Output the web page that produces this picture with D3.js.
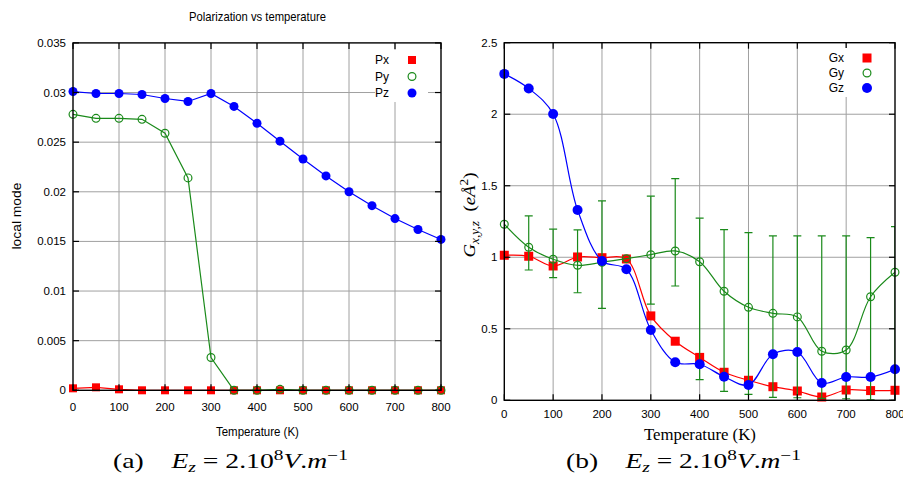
<!DOCTYPE html>
<html><head><meta charset="utf-8">
<script src="https://cdn.jsdelivr.net/npm/d3@7"></script>
<style>body{margin:0;background:#fff} svg{display:block}</style>
</head><body>
<svg id="c" width="903" height="484"></svg>
<script>
// ---------- data ----------
const temps = [0,50,100,150,200,250,300,350,400,450,500,550,600,650,700,750,800];
const px = [0.0002,0.0003,0.0001,0,0,0,0,0,0,0,0,0,0,0,0,0,0];
const py = [0.0278,0.0274,0.0274,0.0273,0.0259,0.0214,0.0033,0,0,0.0001,0,0,0,0,0,0,0];
const pz = [0.0301,0.0299,0.0299,0.0298,0.0294,0.0291,0.0299,0.0286,0.0269,0.0251,0.0233,0.0216,0.0200,0.0186,0.0173,0.0162,0.0152];

const gx = [1.014,1.007,0.939,1.002,0.997,0.988,0.590,0.413,0.300,0.196,0.140,0.095,0.065,0.023,0.072,0.068,0.070];
const gy = [1.231,1.070,0.986,0.944,0.965,0.990,1.018,1.044,0.969,0.762,0.650,0.608,0.583,0.343,0.352,0.724,0.895];
const gz = [2.282,2.180,2.002,1.331,0.974,0.916,0.492,0.266,0.252,0.165,0.107,0.322,0.338,0.121,0.163,0.163,0.217];
const gyHi = [null,1.289,1.196,1.191,1.394,null,1.427,1.550,1.273,1.193,1.172,1.149,1.149,1.149,1.149,1.137,1.214];
const gyLo = [null,0.911,0.857,0.752,0.643,null,0.673,0.799,0.144,0.063,0.042,0.021,0.018,0.014,0.011,0.004,0.0];

const xTicks = [0,100,200,300,400,500,600,700,800];
const leftYTicks = [0,0.005,0.01,0.015,0.02,0.025,0.03,0.035];
const leftYLabels = ["0","0.005","0.01","0.015","0.02","0.025","0.03","0.035"];
const rightYTicks = [0,0.5,1,1.5,2,2.5];
const rightYLabels = ["0","0.5","1","1.5","2","2.5"];
const leftSeries = ["Px","Py","Pz"];
const rightSeries = ["Gx","Gy","Gz"];

// ---------- setup ----------
const svg = d3.select("#c");
const SANS = "'Liberation Sans', Arial, sans-serif";
const SERIF = "'Liberation Serif', 'DejaVu Serif', serif";
const RED = "#ff0000", GREEN = "#1a8a1a", BLUE = "#0000ff", GRID = "#a0a0a0";

const xL = d3.scaleLinear().domain([0,800]).range([73,441]);
const yL = d3.scaleLinear().domain([0,0.035]).range([390.3,42.9]);
const xR = d3.scaleLinear().domain([0,800]).range([504.3,895]);
const yR = d3.scaleLinear().domain([0,2.5]).range([400.3,42.7]);

// place a text (anchored at start, at origin) so its run is `len` px long, centred at (cx,cy), optional rotation
function fit(t, cx, cy, len, rot) {
  const w = t.node().getComputedTextLength();
  const s = len / w;
  t.attr("x",0).attr("y",0).attr("text-anchor","start")
   .attr("transform",`translate(${cx},${cy}) rotate(${rot||0}) scale(${s},1) translate(${-w/2},0)`);
}

function grid(g, x, y, yt) {
  const [x0,x1] = x.range(); const [yb,ytop] = y.range();
  g.selectAll(".gv").data(xTicks.slice(1,-1)).join("line")
    .attr("x1",d=>x(d)).attr("x2",d=>x(d)).attr("y1",ytop).attr("y2",yb)
    .attr("stroke",GRID).attr("stroke-width",1);
  g.selectAll(".gh").data(yt.slice(1,-1)).join("line")
    .attr("x1",x0).attr("x2",x1).attr("y1",d=>y(d)).attr("y2",d=>y(d))
    .attr("stroke",GRID).attr("stroke-width",1);
}
function frameTop(g, x, y, yt, ylabels, xLabelY) {
  const [x0,x1] = x.range(); const [yb,ytop] = y.range();
  const t = g.append("g").attr("stroke","#000").attr("stroke-width",1.2);
  xTicks.forEach(d=>{
    t.append("line").attr("x1",x(d)).attr("x2",x(d)).attr("y1",yb).attr("y2",yb-6);
    t.append("line").attr("x1",x(d)).attr("x2",x(d)).attr("y1",ytop).attr("y2",ytop+6);
  });
  yt.forEach(d=>{
    t.append("line").attr("x1",x0).attr("x2",x0+6).attr("y1",y(d)).attr("y2",y(d));
    t.append("line").attr("x1",x1-6).attr("x2",x1).attr("y1",y(d)).attr("y2",y(d));
  });
  g.append("rect").attr("x",x0).attr("y",ytop).attr("width",x1-x0).attr("height",yb-ytop)
    .attr("fill","none").attr("stroke","#000").attr("stroke-width",1.4);
  g.selectAll(".xl").data(xTicks).join("text")
    .attr("x",d=>x(d)).attr("y",xLabelY).attr("text-anchor","middle")
    .attr("font-family",SANS).attr("font-size",11.5).text(d=>d);
  g.selectAll(".yl").data(yt).join("text")
    .attr("x",x0-7).attr("y",d=>y(d)).attr("dy","0.35em").attr("text-anchor","end")
    .attr("font-family",SANS).attr("font-size",11.5).text((d,i)=>ylabels[i]);
}

function marker(g, type, color, cx, cy, s) {
  if (type==="sq") g.append("rect").attr("x",cx-s/2).attr("y",cy-s/2).attr("width",s).attr("height",s).attr("fill",color);
  else if (type==="oc") g.append("circle").attr("cx",cx).attr("cy",cy).attr("r",s/2-0.6).attr("fill","none").attr("stroke",color).attr("stroke-width",1.2);
  else g.append("circle").attr("cx",cx).attr("cy",cy).attr("r",s/2).attr("fill",color);
}

const defs = svg.append("defs");
defs.append("clipPath").attr("id","clipR").append("rect")
  .attr("x",504.3).attr("y",42.7).attr("width",390.7).attr("height",357.6);

// ---------- left chart ----------
const L = svg.append("g");
grid(L, xL, yL, leftYTicks);
const lineL = (vals)=>d3.line().x((d,i)=>xL(temps[i])).y(d=>yL(d))(vals);
const leftDefs = [[px,RED,"sq",8],[py,GREEN,"oc",9],[pz,BLUE,"fc",9]];
leftDefs.forEach(([vals,col,type,s])=>{
  const g = L.append("g");
  g.append("path").attr("d",lineL(vals)).attr("fill","none").attr("stroke",col).attr("stroke-width",1.2);
  vals.forEach((v,i)=>marker(g,type,col,xL(temps[i]),yL(v),s));
});
frameTop(L, xL, yL, leftYTicks, leftYLabels, 411);
L.append("rect").attr("x",375).attr("y",50).attr("width",53).attr("height",52).attr("fill","#fff");
leftDefs.forEach(([vals,col,type,s],i)=>{
  const yy = 60 + i*16.5;
  L.append("text").attr("x",389).attr("y",yy).attr("dy","0.35em").attr("text-anchor","end")
    .attr("font-family",SANS).attr("font-size",12).text(leftSeries[i]);
  marker(L,type,col,412,yy,s);
});
fit(L.append("text").attr("font-family",SANS).attr("font-size",12).text("Polarization vs temperature"), 257.5, 21, 137);
fit(L.append("text").attr("font-family",SANS).attr("font-size",12).text("Temperature (K)"), 257.5, 436, 83);
fit(L.append("text").attr("font-family",SANS).attr("font-size",12.5).text("local mode"), 21, 216, 67, -90);

// ---------- right chart ----------
const R = svg.append("g");
grid(R, xR, yR, rightYTicks);
const curve = d3.curveCatmullRom.alpha(0.5);
const lineR = (vals)=>d3.line().curve(curve).x((d,i)=>xR(temps[i])).y(d=>yR(d))(vals);
const rightDefs = [[gx,RED,"sq",9],[gy,GREEN,"oc",9],[gz,BLUE,"fc",10]];
rightDefs.forEach(([vals,col,type,s],k)=>{
  const g = R.append("g");
  if (k===1) {
    const eb = g.append("g").attr("stroke",GREEN).attr("stroke-width",1.2).attr("clip-path","url(#clipR)");
    temps.forEach((t,i)=>{
      if (gyHi[i]==null) return;
      const X = xR(t);
      eb.append("line").attr("x1",X).attr("x2",X).attr("y1",yR(gyLo[i])).attr("y2",yR(gyHi[i]));
      eb.append("line").attr("x1",X-4).attr("x2",X+4).attr("y1",yR(gyLo[i])).attr("y2",yR(gyLo[i]));
      eb.append("line").attr("x1",X-4).attr("x2",X+4).attr("y1",yR(gyHi[i])).attr("y2",yR(gyHi[i]));
    });
  }
  g.append("path").attr("d",lineR(vals)).attr("fill","none").attr("stroke",col).attr("stroke-width",1.2).attr("clip-path","url(#clipR)");
  vals.forEach((v,i)=>marker(g,type,col,xR(temps[i]),yR(v),s));
});
frameTop(R, xR, yR, rightYTicks, rightYLabels, 418);
R.append("rect").attr("x",826).attr("y",48).attr("width",48).attr("height",49).attr("fill","#fff");
rightDefs.forEach(([vals,col,type,s],i)=>{
  const yy = 58 + i*15;
  R.append("text").attr("x",844).attr("y",yy).attr("dy","0.35em").attr("text-anchor","end")
    .attr("font-family",SANS).attr("font-size",12).text(rightSeries[i]);
  marker(R,type,col,867,yy,s);
});
fit(R.append("text").attr("font-family",SERIF).attr("font-size",16).text("Temperature (K)"), 700, 440, 112);
const yl = R.append("text").attr("font-family",SERIF).attr("font-size",17);
yl.append("tspan").attr("font-style","italic").text("G");
yl.append("tspan").attr("font-style","italic").attr("font-size",12).attr("dy",4).text("x,y,z");
yl.append("tspan").attr("dy",-4).text("\u2002(");
yl.append("tspan").attr("font-style","italic").text("eÅ");
yl.append("tspan").attr("font-size",12).attr("dy",-7).text("2");
yl.append("tspan").attr("dy",7).text(")");
fit(yl, 475, 215, 85, -90);

// ---------- captions ----------
function caption(cx, letter) {
  const t = svg.append("text").attr("font-family",SERIF).attr("font-size",20);
  t.append("tspan").text("("+letter+")\u2003");
  t.append("tspan").attr("font-style","italic").text("E");
  t.append("tspan").attr("font-style","italic").attr("font-size",14).attr("dy",4).text("z");
  t.append("tspan").attr("dy",-4).text("\u2005=\u20052.10");
  t.append("tspan").attr("font-size",14).attr("dy",-8).text("8");
  t.append("tspan").attr("dy",8).attr("font-style","italic").text("V");
  t.append("tspan").text(".");
  t.append("tspan").attr("font-style","italic").text("m");
  t.append("tspan").attr("font-size",14).attr("dy",-8).text("\u22121");
  fit(t, cx, 468, 235);
}
caption(230.5,"a");
caption(683.5,"b");
</script>
</body></html>
